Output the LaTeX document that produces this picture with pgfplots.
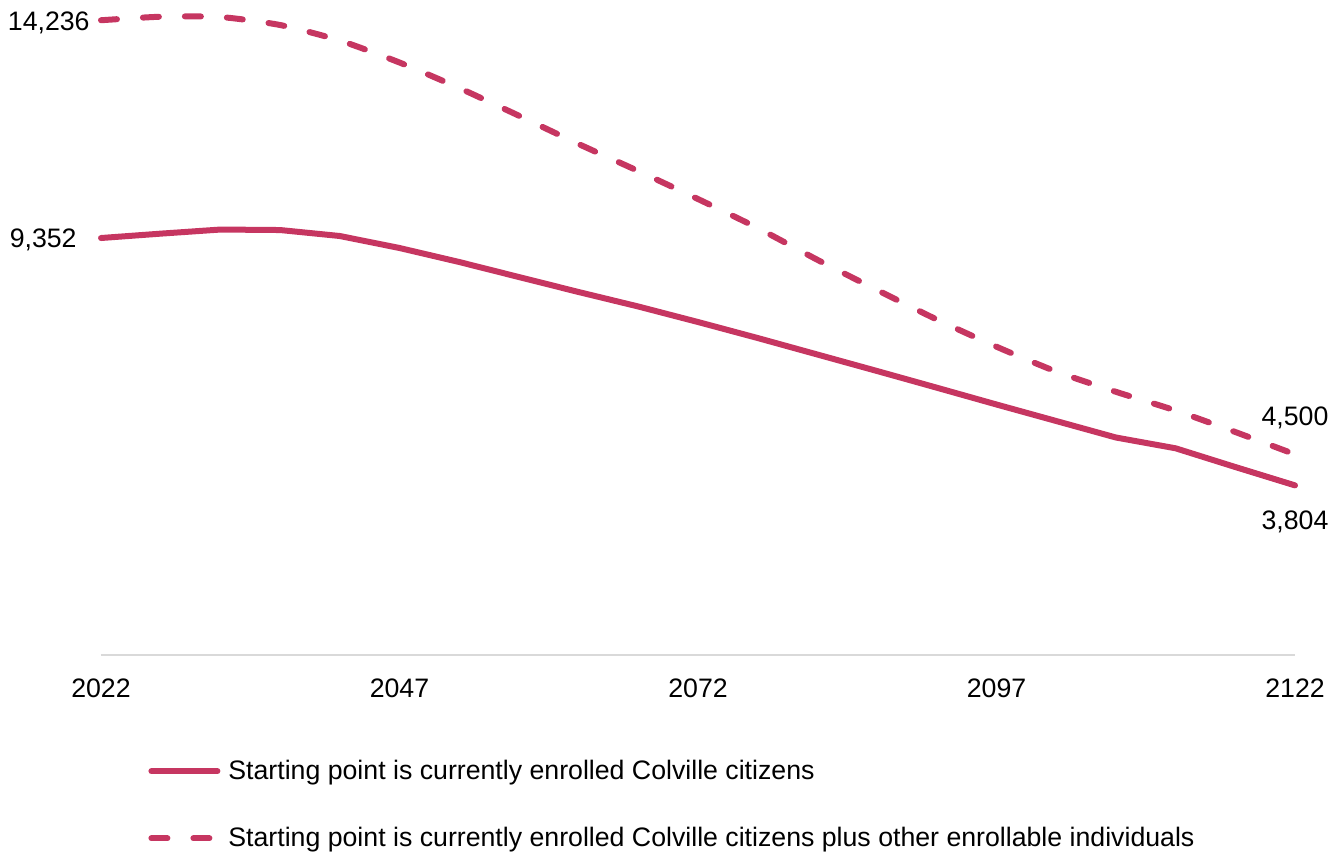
\documentclass[border=0pt]{standalone}
\usepackage{fontspec}
\setmainfont{Liberation Sans}
\usepackage{pgfplots}
\pgfplotsset{compat=1.18}
\definecolor{cline}{HTML}{C63661}
\definecolor{axgray}{HTML}{D9D9D9}

\pgfplotstableread{
year v
2022 9352
2027 9450
2032 9542
2037 9531
2042 9397
2047 9128
2052 8814
2057 8477
2062 8141
2067 7816
2072 7468
2077 7109
2082 6739
2087 6369
2092 5995
2097 5618
2102 5248
2107 4878
2112 4636
2117 4216
2122 3804
}\enrolled

\pgfplotstableread{
year v
2022 14236
2027 14315
2032 14308
2037 14129
2042 13781
2047 13288
2052 12716
2057 12095
2062 11460
2067 10854
2072 10226
2077 9576
2082 8863
2087 8186
2092 7524
2097 6914
2102 6358
2107 5903
2112 5483
2117 5001
2122 4500
}\enrollable

\begin{document}
\begin{tikzpicture}[font=\fontsize{13.35}{16}\selectfont]
\useasboundingbox (-50.5pt,-98.5pt) rectangle (620.5pt,327.5pt);
\begin{axis}[
  scale only axis,
  width=597pt, height=327.5pt,
  xmin=2022, xmax=2122, ymin=0, ymax=14690,
  axis x line*=bottom, axis y line=none,
  x axis line style={-, draw=axgray, line width=0.8pt},
  xtick={2022,2047,2072,2097,2122},
  xtick style={draw=none},
  ytick=\empty,
  xticklabel style={anchor=base, yshift=-21pt, inner sep=0pt,
    /pgf/number format/.cd, 1000 sep={}, assume math mode=true},
  clip=false,
  legend cell align=left,
  legend style={at={(axis description cs:0,0)}, anchor=north west,
    xshift=23.5pt, yshift=-52.3pt, draw=none, fill=none, inner sep=0pt,
    row sep=22.4pt, column sep=4pt, nodes={inner sep=0pt},
    font=\fontsize{13.35}{16}\selectfont},
  legend image code/.code={\draw[#1] (0pt,0pt) -- (33pt,0pt);},
]
\addplot[cline, line width=3pt, line cap=round, line join=round] table[x=year,y=v] {\enrolled};
\addlegendentry{Starting point is currently enrolled Colville citizens}
\addplot[cline, line width=3pt, line cap=round, line join=round, dash pattern=on 8pt off 13pt, smooth, tension=0.4] table[x=year,y=v] {\enrollable};
\addlegendentry{Starting point is currently enrolled Colville citizens plus other enrollable individuals}

\node[anchor=base east, inner sep=0pt, xshift=-5.5pt, yshift=-5pt] at (axis cs:2022,14236) {14,236};
\node[anchor=base east, inner sep=0pt, xshift=-12pt, yshift=-4.5pt] at (axis cs:2022,9352) {9,352};
\node[anchor=base, inner sep=0pt, yshift=14.5pt] at (axis cs:2122,4500) {4,500};
\node[anchor=base, inner sep=0pt, yshift=-22pt] at (axis cs:2122,3804) {3,804};
\end{axis}
\end{tikzpicture}
\end{document}
